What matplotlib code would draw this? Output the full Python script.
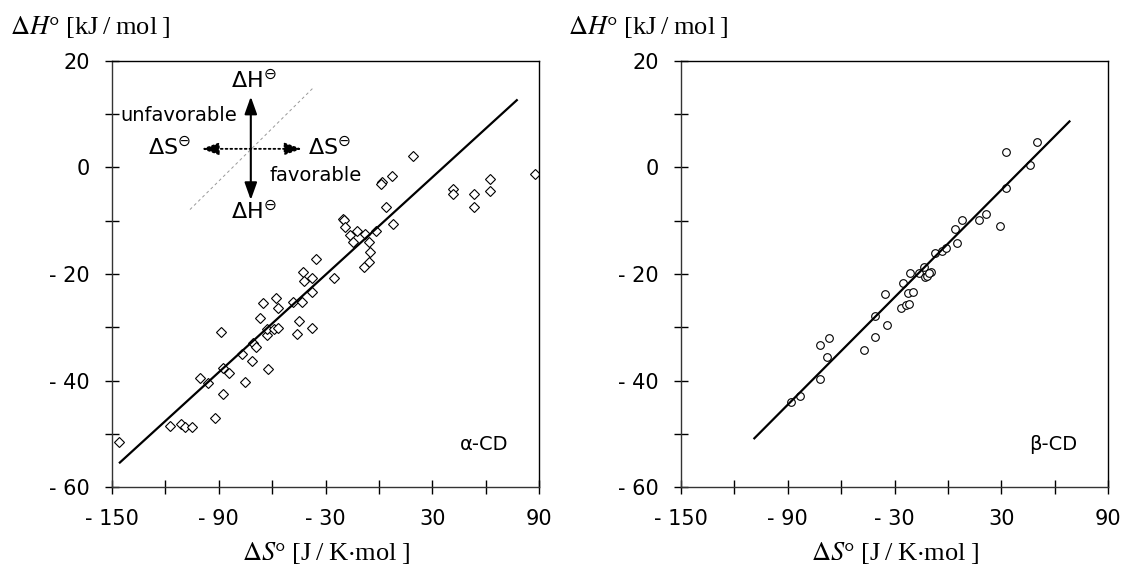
import matplotlib
matplotlib.use('Agg')
import matplotlib.pyplot as plt
from matplotlib.ticker import MultipleLocator, FuncFormatter
import numpy as np

# alpha-CD: dS [J/K mol], dH [kJ/mol]
alpha_dS = [-146.2, -117.4, -111.0, -109.1, -105.2, -92.4, -87.9, -100.3, -96.3, -87.6,
            -84.0, -75.5, -77.2, -71.4, -62.6, -70.7, -69.3, -63.0, -63.0, -59.0,
            -56.6, -46.3, -37.4, -88.5, -66.9, -65.4, -57.8, -56.6, -48.5, -43.5,
            -45.0, -37.7, -42.9, -42.2, -37.7, -35.4, -25.3, -20.0, -19.7, -19.1,
            -16.3, -12.1, -14.4, -7.7, -1.8, -5.6, -5.0, -5.6, -8.4, 7.5,
            1.9, 1.1, 4.0, 7.9, 19.0, 41.6, 41.6, 53.5, 53.5, 62.5,
            62.5, 87.8]
alpha_dH = [-51.5, -48.6, -48.2, -48.7, -48.7, -47.0, -42.5, -39.5, -40.5, -37.7,
            -38.5, -40.2, -35.0, -36.3, -37.8, -33.0, -33.8, -31.5, -30.4, -30.4,
            -30.1, -31.3, -30.1, -30.9, -28.3, -25.4, -24.6, -26.3, -25.3, -25.3,
            -28.8, -23.3, -19.6, -21.3, -20.7, -17.1, -20.8, -9.6, -9.9, -11.2,
            -12.6, -11.9, -13.9, -12.5, -12.0, -14.0, -15.8, -17.8, -18.7, -1.6,
            -2.7, -3.1, -7.5, -10.6, 2.2, -4.1, -4.9, -4.9, -7.5, -2.1,
            -4.5, -1.2]

# beta-CD
beta_dS = [-88.3, -82.9, -71.8, -68.0, -71.8, -66.8, -47.1, -40.9, -40.9, -35.6,
           -34.3, -26.2, -23.8, -21.7, -25.1, -22.5, -19.7, -21.2, -16.1, -13.3,
           -12.8, -11.8, -9.6, -10.5, -7.3, -3.5, -1.3, 4.1, 5.3, 8.1,
           17.2, 21.3, 29.1, 32.6, 32.6, 46.0, 49.9]
beta_dH = [-44.1, -43.0, -39.7, -35.6, -33.4, -32.0, -34.3, -31.9, -27.8, -23.8,
           -29.5, -26.3, -25.9, -25.6, -21.7, -23.5, -23.3, -19.8, -19.8, -18.7,
           -20.6, -20.3, -19.7, -19.9, -16.1, -15.6, -15.2, -11.6, -14.1, -9.9,
           -9.8, -8.7, -10.9, 3.0, -3.9, 0.5, 4.7]

# regression lines: slope, intercept, x range
alpha_fit = (0.305, -11.0, -145.6, 77.5)
beta_fit = (0.336, -14.3, -108.8, 68.3)

plt.rcParams['font.family'] = ['DejaVu Sans']


def xfmt(v, pos):
    v = int(round(v))
    if (v + 150) % 60 != 0:
        return ''
    return ('- %d' % abs(v)) if v < 0 else '%d' % v


def yfmt(v, pos):
    v = int(round(v))
    if v % 20 != 0:
        return ''
    return ('- %d' % abs(v)) if v < 0 else '%d' % v


def setup(ax, name):
    ax.set_xlim(-150, 90)
    ax.set_ylim(-60, 20)
    ax.xaxis.set_major_locator(MultipleLocator(30))
    ax.yaxis.set_major_locator(MultipleLocator(10))
    ax.xaxis.set_major_formatter(FuncFormatter(xfmt))
    ax.yaxis.set_major_formatter(FuncFormatter(yfmt))
    ax.tick_params(direction='inout', length=10, width=1.0, labelsize=15, pad=11,
                   top=False, right=False)
    for s in ax.spines.values():
        s.set_linewidth(1.0)
    ax.spines['left'].set_color('#333333')
    ax.spines['bottom'].set_color('#333333')
    ax.text(0.928, 0.1, name, transform=ax.transAxes, ha='right', va='center',
            fontsize=14)
    ax.text(0.5, -0.155, '$\\Delta S$° [J\u2009/\u2009K$\\cdot$mol\u2009]',
            transform=ax.transAxes, ha='center', va='center', fontsize=19,
            family='Liberation Serif', math_fontfamily='stix')


fig = plt.figure(figsize=(11.27, 5.71), dpi=100)
ax1 = fig.add_axes([0.0994, 0.1471, 0.3789, 0.7461])
ax2 = fig.add_axes([0.6043, 0.1471, 0.3789, 0.7461])

for xpos in (10 / 1127, 568 / 1127):
    fig.text(xpos, 0.953, '$\\Delta H$° [kJ\u2009/\u2009mol\u2009]', ha='left',
             va='center', fontsize=19, family='Liberation Serif',
             math_fontfamily='stix')

# left panel
ax1.plot(alpha_dS, alpha_dH, linestyle='none', marker='D', markersize=5,
         markerfacecolor='white', markeredgecolor='black', markeredgewidth=0.8)
xs = np.array(alpha_fit[2:])
ax1.plot(xs, alpha_fit[0] * xs + alpha_fit[1], color='black', lw=1.6)
setup(ax1, 'α-CD')

# inset sketch
ax1.plot([-106.2, -37.1], [-7.9, 14.9], color='#999999', lw=0.7, linestyle=(0, (3, 3)))
ax1.annotate('', xy=(-72, 13.3), xytext=(-72, -6.1),
             arrowprops=dict(arrowstyle='<|-|>,head_length=0.7,head_width=0.25',
                             color='black', lw=1.5, mutation_scale=15,
                             shrinkA=0, shrinkB=0))
ax1.annotate('', xy=(-99.7, 3.5), xytext=(-43.3, 3.5),
             arrowprops=dict(arrowstyle='<|-|>,head_length=0.7,head_width=0.25',
                             color='black', lw=1.3, linestyle=':', mutation_scale=15,
                             shrinkA=0, shrinkB=0))
mathkw = dict(fontsize=16, math_fontfamily='dejavusans', ha='center', va='center')
ax1.text(-70.5, 16.4, r'$\Delta\mathrm{H}^{\ominus}$', **mathkw)
ax1.text(-70.5, -8.2, r'$\Delta\mathrm{H}^{\ominus}$', **mathkw)
ax1.text(-117.5, 3.9, r'$\Delta\mathrm{S}^{\ominus}$', **mathkw)
ax1.text(-27.5, 3.9, r'$\Delta\mathrm{S}^{\ominus}$', **mathkw)
ax1.text(-112.5, 9.7, 'unfavorable', fontsize=14, ha='center', va='center')
ax1.text(-35.5, -1.5, 'favorable', fontsize=14, ha='center', va='center')

# right panel
ax2.plot(beta_dS, beta_dH, linestyle='none', marker='o', markersize=5.5,
         markerfacecolor='white', markeredgecolor='black', markeredgewidth=0.8)
xs = np.array(beta_fit[2:])
ax2.plot(xs, beta_fit[0] * xs + beta_fit[1], color='black', lw=1.6)
setup(ax2, 'β-CD')

fig.savefig('out.png', dpi=100)
